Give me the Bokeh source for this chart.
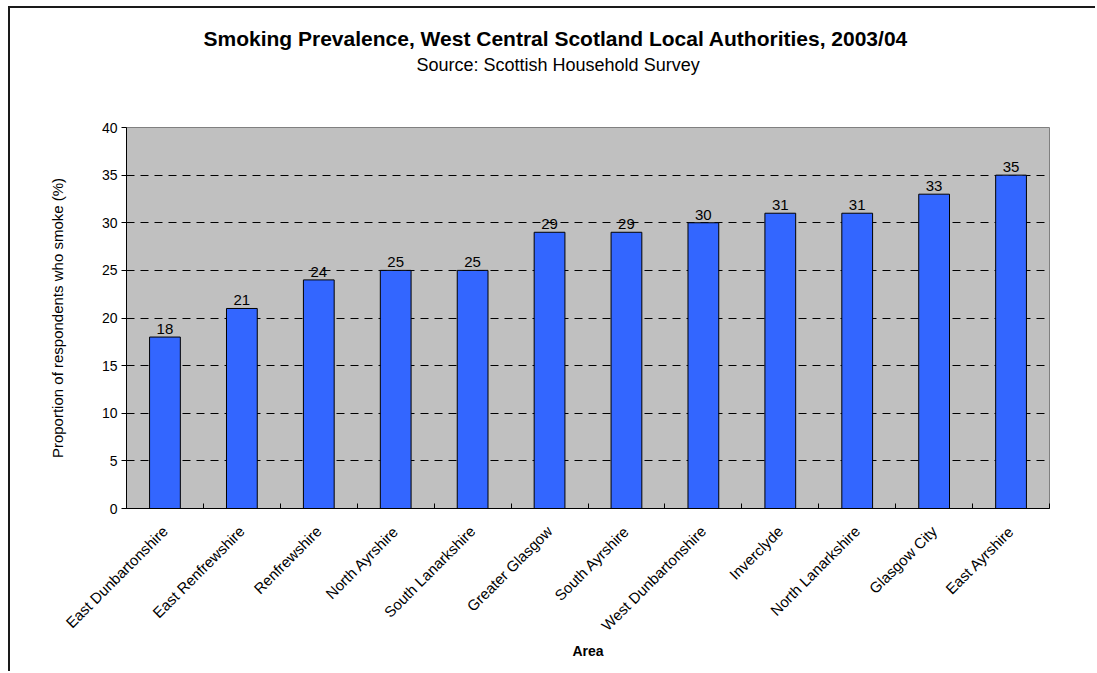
import math
from bokeh.plotting import figure
from bokeh.models import (ColumnDataSource, Range1d, LinearAxis,
                          FixedTicker, LabelSet, Title)
from bokeh.core.properties import value
from bokeh.embed import file_html
from bokeh.resources import INLINE

# ---- data ----
areas = ["East Dunbartonshire", "East Renfrewshire", "Renfrewshire", "North Ayrshire",
         "South Lanarkshire", "Greater Glasgow", "South Ayrshire", "West Dunbartonshire",
         "Inverclyde", "North Lanarkshire", "Glasgow City", "East Ayrshire"]
smoking = [18, 21, 24, 25, 25, 29, 29, 30, 31, 31, 33, 35]
y_ticks = [0, 5, 10, 15, 20, 25, 30, 35, 40]
grid_ticks = [5, 10, 15, 20, 25, 30, 35]

title_text = "Smoking Prevalence, West Central Scotland Local Authorities, 2003/04"
subtitle_text = "Source: Scottish Household Survey"
y_label = "Proportion of respondents who smoke (%)"
x_label = "Area"

FONT = "Liberation Sans"

n = len(areas)
centers = [i + 0.5 for i in range(n)]
src = ColumnDataSource(dict(x=centers, area=areas, value=smoking,
                            label=[str(v) for v in smoking]))

p = figure(x_range=Range1d(0, n), y_range=Range1d(y_ticks[0], y_ticks[-1]),
           width=1087, height=665, output_backend="svg", toolbar_location=None,
           x_axis_location=None,
           min_border_left=116, min_border_top=119, min_border_right=48,
           min_border_bottom=165)

p.styles = {"border-left": "2px solid #1a1a1a", "border-top": "2px solid #1a1a1a",
            "margin-left": "8px", "margin-top": "6px"}

p.background_fill_color = "#C0C0C0"
p.border_fill_color = "white"
p.outline_line_color = "#808080"
p.outline_line_width = 1

# bars
p.vbar(x="x", top="value", width=0.4, source=src,
       fill_color="#3366FF", line_color="black", line_width=1)

# value labels
p.add_layout(LabelSet(x="x", y="value", text="label", source=src,
                      y_offset=3, text_align="center", text_baseline="bottom",
                      text_font=value(FONT), text_font_size=value("15px"),
                      text_color="black"))

# y axis
ya = p.yaxis[0]
ya.ticker = FixedTicker(ticks=y_ticks)
ya.major_tick_out = 5
ya.major_tick_in = 0
ya.minor_tick_line_color = None
ya.axis_line_color = "black"
ya.major_tick_line_color = "black"
ya.major_label_text_font = FONT
ya.major_label_text_font_size = "14px"
ya.major_label_text_color = "black"
ya.major_label_standoff = 4
ya.axis_label = y_label
ya.axis_label_text_font = FONT
ya.axis_label_text_font_size = "15px"
ya.axis_label_text_font_style = "normal"
ya.axis_label_text_color = "black"
ya.axis_label_standoff = 33

# grid
p.ygrid.ticker = FixedTicker(ticks=grid_ticks)
p.ygrid.grid_line_color = "black"
p.ygrid.grid_line_dash = "8 6"
p.ygrid.grid_line_width = 1
p.xgrid.visible = False

# boundary ticks axis (x)
tick_axis = LinearAxis(ticker=FixedTicker(ticks=list(range(n + 1))),
                       major_tick_in=5, major_tick_out=0, minor_tick_line_color=None,
                       major_label_overrides={i: "" for i in range(n + 1)},
                       major_label_standoff=0, axis_line_color="black",
                       major_tick_line_color="black")
p.add_layout(tick_axis, "below")

# category labels axis
cat_axis = LinearAxis(ticker=FixedTicker(ticks=centers),
                      major_label_overrides={c: a for c, a in zip(centers, areas)},
                      major_tick_line_color=None, minor_tick_line_color=None,
                      axis_line_color=None,
                      major_label_orientation=math.pi / 4,
                      major_label_text_font=FONT, major_label_text_font_size="15px",
                      major_label_text_color="black", major_label_standoff=14,
                      axis_label=x_label, axis_label_text_font=FONT,
                      axis_label_text_font_size="14px",
                      axis_label_text_font_style="bold",
                      axis_label_text_color="black", axis_label_standoff=0)
p.add_layout(cat_axis, "below")

# invisible spacer between frame and the titles
spacer = LinearAxis(ticker=FixedTicker(ticks=[0]), major_tick_out=52, major_tick_in=0,
                    major_label_overrides={0: ""}, major_label_standoff=0,
                    major_tick_line_color=None, minor_tick_line_color=None,
                    axis_line_color=None)
p.add_layout(spacer, "above")

# titles (first added sits closest to the frame)
p.add_layout(Title(text=subtitle_text, align="left", offset=290, standoff=2,
                   text_font=FONT, text_font_size="18px", text_font_style="normal",
                   text_color="black"), "above")
p.add_layout(Title(text=title_text, align="left", offset=77, standoff=4,
                   text_font=FONT, text_font_size="21px", text_font_style="bold",
                   text_color="black"), "above")

open("out.html", "w").write(file_html(p, INLINE))
